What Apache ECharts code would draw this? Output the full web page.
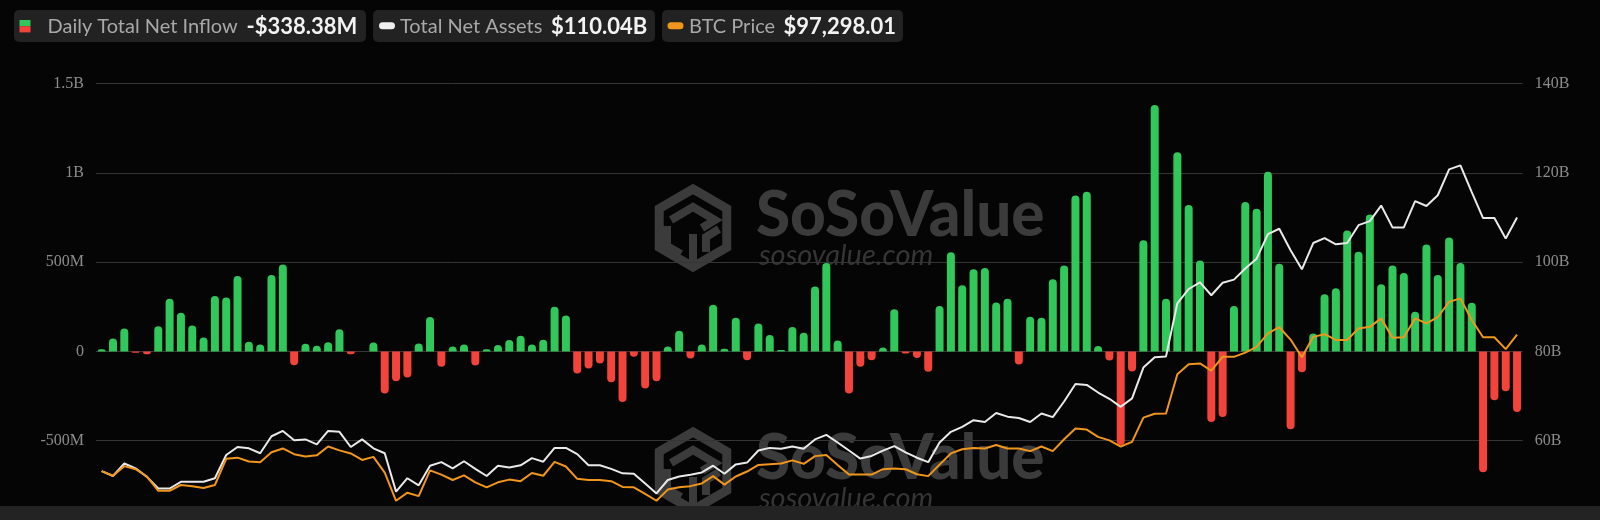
<!DOCTYPE html>
<html>
<head>
<meta charset="utf-8">
<script src="https://cdn.jsdelivr.net/npm/echarts/dist/echarts.min.js"></script>
<style>
html,body{margin:0;padding:0;background:#050505;}
#c{width:1600px;height:520px;}
</style>
</head>
<body>
<div id="c"></div>
<script>
// Daily total net inflow (millions USD)
const inflow = [
 13, 73, 129, -7, -15, 142, 296, 217, 146, 79,
 311, 302, 423, 54, 39, 429, 487, -77, 43, 32,
 52, 124, -15, 0, 51, -236, -167, -146, 45, 193,
 -86, 28, 39, -79, 13, 36, 64, 88, 39, 66,
 251, 202, -124, -96, -67, -172, -283, -30, -208, -167,
 28, 116, -39, 39, 262, 15, 189, -49, 157, 92,
 8, 137, 105, 364, 495, 61, -236, -86, -49, 22,
 236, -11, -36, -114, 255, 556, 371, 461, 468, 275,
 296, -73, 195, 189, 405, 481, 874, 895, 31, -50,
 -524, -112, 623, 1381, 295, 1116, 820, 510, -395, -367,
 255, 838, 799, 1007, 491, -436, -117, 101, 320, 354,
 678, 558, 768, 376, 481, 440, 223, 599, 429, 639,
 496, 273, -676, -273, -223, -338.38
];
// Total net assets (billions USD)
const netAssets = [
 53.2, 52.1, 54.9, 53.8, 51.9, 49.3, 49.3, 50.8, 50.8, 50.8,
 51.6, 56.8, 58.6, 58.3, 57.2, 61.0, 62.2, 60.1, 60.3, 59.2,
 62.2, 62.0, 58.6, 60.3, 58.3, 57.2, 48.6, 51.6, 50.0, 54.4,
 55.2, 53.8, 55.4, 53.7, 52.1, 54.4, 54.0, 54.5, 56.1, 55.3,
 58.4, 58.4, 57.0, 54.5, 54.5, 53.7, 52.7, 52.6, 50.4, 48.2,
 51.2, 52.0, 52.4, 52.9, 54.4, 52.6, 54.7, 55.1, 57.8, 58.4,
 58.2, 58.7, 58.2, 60.3, 61.3, 59.6, 57.8, 56.0, 56.6, 57.8,
 58.8, 57.4, 56.2, 55.2, 59.6, 62.0, 63.1, 64.6, 64.2, 66.2,
 65.4, 65.1, 64.2, 66.1, 65.3, 68.8, 72.7, 72.5, 70.8, 69.4,
 67.6, 69.5, 76.4, 78.7, 78.9, 90.8, 94.0, 95.5, 92.6, 95.4,
 96.1, 98.6, 100.8, 106.3, 107.5, 102.7, 98.4, 104.3, 105.4, 104.0,
 104.3, 108.3, 109.2, 112.7, 107.8, 107.8, 113.7, 112.6, 115.0, 120.8,
 121.7, 115.7, 109.9, 109.9, 105.3, 110.04
];
// BTC price (USD)
const btcPrice = [
 61800, 60600, 63100, 62300, 60400, 56700, 56700, 58200, 57900, 57400,
 58200, 65000, 65300, 64300, 64100, 66700, 67700, 66200, 65600, 65900,
 68200, 67200, 66400, 64700, 65500, 61400, 54100, 56200, 55300, 62000,
 60900, 59500, 60700, 58900, 57600, 58900, 59600, 59200, 61300, 60600,
 64200, 63000, 59800, 59500, 59500, 59200, 57700, 57600, 55900, 54100,
 57000, 57600, 57900, 58600, 60500, 58300, 60400, 61700, 63400, 63600,
 63800, 64600, 63700, 65700, 66000, 63400, 60900, 60900, 60900, 62300,
 62500, 62300, 61000, 60500, 63500, 66400, 67500, 67800, 67700, 68600,
 67700, 67700, 67000, 68200, 67000, 70100, 72900, 72600, 70700, 69800,
 68200, 69400, 75700, 76700, 76800, 87000, 89600, 89800, 87900, 91500,
 91500, 92600, 94100, 97600, 99200, 96000, 91400, 96700, 97400, 95900,
 95900, 98900, 99300, 101500, 96500, 96600, 101500, 100200, 101800, 105800,
 106700, 101100, 96600, 96600, 93500, 97298.01
];
const categories = inflow.map((_, i) => 'D' + (i + 1));
const legendNames = ['Daily Total Net Inflow', 'Total Net Assets', 'BTC Price'];

const GREEN = '#32c75a', RED = '#f2443a', WHITE = '#e9e9e9', ORANGE = '#f0961c';
const GRID_COLOR = '#353535', LABEL_COLOR = '#8c8c8c', WM = '#3b3b3b';

function fmtLeft(v) {
  if (v === 0) return '0';
  const a = Math.abs(v);
  const s = a >= 1000 ? (a / 1000) + 'B' : a + 'M';
  return (v < 0 ? '-' : '') + s;
}
const lastInflow = inflow[inflow.length - 1];
const inflowText = (lastInflow < 0 ? '-' : '') + '$' + Math.abs(lastInflow).toFixed(2) + 'M';
const assetsText = '$' + netAssets[netAssets.length - 1].toFixed(2) + 'B';
const btcText = '$' + btcPrice[btcPrice.length - 1].toLocaleString('en-US', {minimumFractionDigits: 2, maximumFractionDigits: 2});

function watermark(dy) {
  const cx = 693, cy = 228 + dy, R = 39;
  const pts = [];
  for (let k = 0; k < 6; k++) {
    const a = (-90 + 60 * k) * Math.PI / 180;
    pts.push([cx + R * Math.cos(a), cy + R * Math.sin(a)]);
  }
  const ls = {fill: null, stroke: WM, lineWidth: 9, lineJoin: 'miter', lineCap: 'butt'};
  return [
    {type: 'polygon', shape: {points: pts}, style: ls, silent: true},
    {type: 'polyline', shape: {points: [[671, 220 + dy], [693, 207 + dy], [715, 220 + dy], [702, 228 + dy]]}, style: Object.assign({}, ls, {lineWidth: 8}), silent: true},
    {type: 'polyline', shape: {points: [[693, 234 + dy], [693, 262 + dy]]}, style: Object.assign({}, ls, {lineWidth: 8}), silent: true},
    {type: 'polyline', shape: {points: [[667, 226 + dy], [667, 246 + dy], [681, 254 + dy]]}, style: Object.assign({}, ls, {lineWidth: 8}), silent: true},
    {type: 'polyline', shape: {points: [[719, 229 + dy], [706, 237 + dy], [706, 252 + dy]]}, style: Object.assign({}, ls, {lineWidth: 8}), silent: true},
    {type: 'text', x: 756, y: 216 + dy, silent: true,
      style: {text: 'SoSoValue', font: '900 62px Lato', fill: WM, verticalAlign: 'middle', align: 'left'}},
    {type: 'text', x: 759, y: 256 + dy, silent: true,
      style: {text: 'sosovalue.com', font: 'italic 29px Lato', fill: '#353535', verticalAlign: 'middle', align: 'left'}}
  ];
}

const legendGraphics = [
  {type: 'rect', shape: {x: 14, y: 10, width: 352, height: 32, r: 5}, style: {fill: '#222222'}},
  {type: 'rect', shape: {x: 19.5, y: 20, width: 11, height: 6.2}, style: {fill: GREEN}},
  {type: 'rect', shape: {x: 19.5, y: 26.2, width: 11, height: 6.2}, style: {fill: RED}},
  {type: 'text', x: 47.5, y: 26.5, style: {text: legendNames[0], font: '20px Lato', fill: '#a8a8a8', verticalAlign: 'middle'}},
  {type: 'text', x: 246.5, y: 26.5, style: {text: inflowText, font: 'bold 22px Lato', fill: '#f2f2f2', verticalAlign: 'middle'}},

  {type: 'rect', shape: {x: 373, y: 10, width: 282, height: 32, r: 5}, style: {fill: '#222222'}},
  {type: 'rect', shape: {x: 379, y: 22.3, width: 16, height: 7, r: 3.5}, style: {fill: '#eeeeee'}},
  {type: 'text', x: 400, y: 26.5, style: {text: legendNames[1], font: '20px Lato', fill: '#a8a8a8', verticalAlign: 'middle'}},
  {type: 'text', x: 551, y: 26.5, style: {text: assetsText, font: 'bold 22px Lato', fill: '#f2f2f2', verticalAlign: 'middle'}},

  {type: 'rect', shape: {x: 662, y: 10, width: 241, height: 32, r: 5}, style: {fill: '#222222'}},
  {type: 'rect', shape: {x: 667.5, y: 22.3, width: 16, height: 7, r: 3.5}, style: {fill: ORANGE}},
  {type: 'text', x: 689, y: 26.5, style: {text: legendNames[2], font: '20px Lato', fill: '#a8a8a8', verticalAlign: 'middle'}},
  {type: 'text', x: 783.5, y: 26.5, style: {text: btcText, font: 'bold 22px Lato', fill: '#f2f2f2', verticalAlign: 'middle'}},

  {type: 'rect', z: 100, shape: {x: 0, y: 506, width: 1600, height: 14}, style: {fill: '#232323'}}
];

const chart = echarts.init(document.getElementById('c'), null, {renderer: 'canvas'});
chart.setOption({
  backgroundColor: '#050505',
  animation: false,
  grid: {left: 96, right: 77.3, top: 83.7, bottom: -10, containLabel: false, outerBoundsMode: 'none'},
  xAxis: {type: 'category', data: categories, boundaryGap: true, show: false},
  yAxis: [
    {type: 'value', position: 'left', min: -1000, max: 1500, interval: 500,
      axisLine: {show: false}, axisTick: {show: false},
      splitLine: {lineStyle: {color: GRID_COLOR, width: 1}},
      axisLabel: {color: LABEL_COLOR, fontFamily: 'Liberation Serif', fontSize: 16, margin: 12,
        showMinLabel: false, formatter: fmtLeft}},
    {type: 'value', position: 'right', min: 40, max: 140, interval: 20,
      axisLine: {show: false}, axisTick: {show: false}, splitLine: {show: false},
      axisLabel: {color: LABEL_COLOR, fontFamily: 'Liberation Serif', fontSize: 16, margin: 12,
        showMinLabel: false, formatter: v => v + 'B'}},
    {type: 'value', position: 'right', min: 46500, max: 162500, show: false, splitLine: {show: false}}
  ],
  series: [
    {name: legendNames[0], type: 'bar', yAxisIndex: 0, barWidth: 8,
      data: inflow.map(v => ({value: v, itemStyle: {color: v >= 0 ? GREEN : RED, borderRadius: v >= 0 ? [4, 4, 0, 0] : [0, 0, 4, 4]}}))},
    {name: legendNames[1], type: 'line', yAxisIndex: 1, data: netAssets, symbol: 'none',
      lineStyle: {color: WHITE, width: 2}},
    {name: legendNames[2], type: 'line', yAxisIndex: 2, data: btcPrice, symbol: 'none',
      lineStyle: {color: ORANGE, width: 2}}
  ],
  graphic: watermark(0).concat(watermark(243)).concat(legendGraphics)
});
</script>
</body>
</html>
